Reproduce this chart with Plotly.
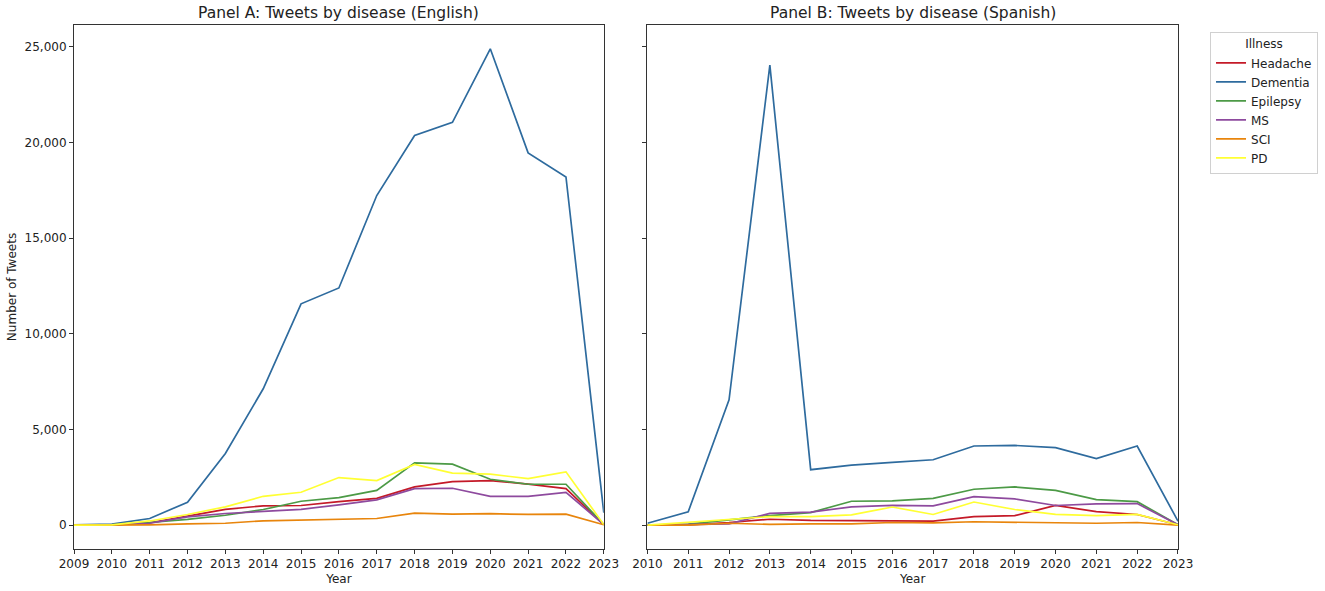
import plotly.graph_objects as go

# years per panel
years_en = list(range(2009, 2024))
years_es = list(range(2010, 2024))

illnesses = ["Headache", "Dementia", "Epilepsy", "MS", "SCI", "PD"]
colors = ["#c41a28", "#2e6b9e", "#4c9a46", "#8e4a9e", "#e8850c", "#ffff33"]

# Panel A: English tweets
en_headache = [0, 20, 120, 470, 830, 1010, 1030, 1230, 1400, 2000, 2280, 2330, 2150, 1910, 30]
en_dementia = [20, 60, 350, 1200, 3750, 7130, 11570, 12400, 17230, 20370, 21060, 24900, 19460, 18200, 650]
en_epilepsy = [0, 20, 140, 300, 520, 820, 1250, 1440, 1820, 3260, 3190, 2400, 2140, 2140, 30]
en_ms = [0, 20, 100, 430, 610, 730, 830, 1060, 1320, 1910, 1930, 1510, 1510, 1720, 30]
en_sci = [0, 0, 20, 70, 100, 230, 260, 310, 350, 630, 580, 600, 560, 580, 20]
en_pd = [0, 20, 220, 560, 960, 1510, 1720, 2490, 2330, 3180, 2720, 2670, 2430, 2790, 30]

# Panel B: Spanish tweets
es_headache = [0, 20, 140, 310, 250, 250, 230, 210, 450, 500, 1030, 710, 560, 20]
es_dementia = [100, 700, 6550, 24050, 2900, 3140, 3280, 3420, 4140, 4170, 4050, 3480, 4140, 210]
es_epilepsy = [0, 60, 280, 500, 660, 1250, 1270, 1400, 1880, 2000, 1820, 1340, 1230, 20]
es_ms = [0, 20, 70, 620, 680, 960, 1040, 1010, 1490, 1370, 1030, 1110, 1130, 20]
es_sci = [0, 0, 100, 40, 70, 70, 140, 120, 180, 160, 140, 100, 140, 0]
es_pd = [0, 140, 280, 450, 450, 540, 950, 560, 1210, 820, 570, 500, 560, 20]

en_series = [en_headache, en_dementia, en_epilepsy, en_ms, en_sci, en_pd]
es_series = [es_headache, es_dementia, es_epilepsy, es_ms, es_sci, es_pd]

fig = go.Figure()

for name, col, ys in zip(illnesses, colors, en_series):
    fig.add_trace(go.Scatter(x=years_en, y=ys, mode="lines", name=name,
                             line=dict(color=col, width=1.7),
                             legendgroup=name, xaxis="x", yaxis="y"))

for name, col, ys in zip(illnesses, colors, es_series):
    fig.add_trace(go.Scatter(x=years_es, y=ys, mode="lines", name=name,
                             line=dict(color=col, width=1.7),
                             legendgroup=name, showlegend=False,
                             xaxis="x2", yaxis="y2"))

axis_style = dict(showline=True, linecolor="#333333", linewidth=1, mirror=True,
                  ticks="outside", ticklen=4, tickcolor="#333333",
                  showgrid=False, zeroline=False, automargin=False,
                  tickfont=dict(size=12, color="#222222"))

dom_a = [0, 0.4799]
dom_b = [0.5194, 1]

fig.update_layout(
    width=1325, height=591,
    margin=dict(l=74, r=147, t=25, b=42, autoexpand=False),
    plot_bgcolor="white", paper_bgcolor="white",
    font=dict(family="DejaVu Sans", size=12, color="#222222"),
    xaxis=dict(domain=dom_a, range=[2009, 2023], dtick=1, anchor="y",
               title=dict(text="Year", font=dict(size=12), standoff=4), **axis_style),
    yaxis=dict(range=[-1245, 26145], dtick=5000, tickformat=",", anchor="x",
               title=dict(text="Number of Tweets", font=dict(size=12), standoff=5), **axis_style),
    xaxis2=dict(domain=dom_b, range=[2010, 2023], dtick=1, anchor="y2",
                title=dict(text="Year", font=dict(size=12), standoff=4), **axis_style),
    yaxis2=dict(matches="y", range=[-1245, 26145], dtick=5000, anchor="x2",
                showticklabels=False, **axis_style),
    legend=dict(title=dict(text="Illness", side="top center", font=dict(size=12)),
                x=1.029, y=0.987, xanchor="left", yanchor="top",
                bordercolor="#d0d0d0", borderwidth=1, bgcolor="white",
                font=dict(size=12), tracegroupgap=0, itemwidth=30),
    showlegend=True,
    annotations=[
        dict(text="Panel A: Tweets by disease (English)", x=sum(dom_a) / 2, y=1,
             xref="paper", yref="paper", xanchor="center", yanchor="bottom",
             yshift=1, showarrow=False, font=dict(size=15.5, color="#222222")),
        dict(text="Panel B: Tweets by disease (Spanish)", x=sum(dom_b) / 2, y=1,
             xref="paper", yref="paper", xanchor="center", yanchor="bottom",
             yshift=1, showarrow=False, font=dict(size=15.5, color="#222222")),
    ],
)

# drop the browser's default body margin so the figure sits at the page corner
fig.write_html("out.html", config={"displayModeBar": False},
               post_script="document.body.style.margin='0';")
